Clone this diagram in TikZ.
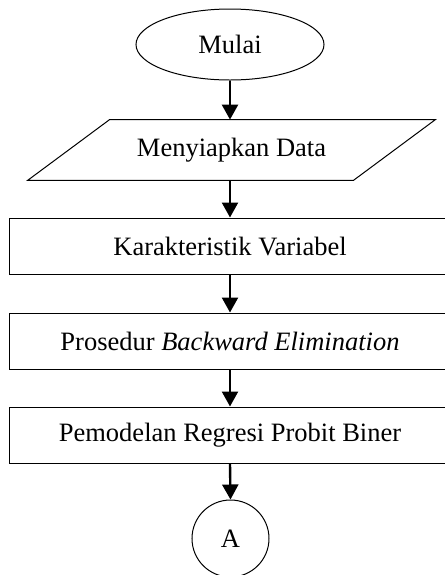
\documentclass[tikz,border=0pt]{standalone}
\usepackage{fontspec}
\setmainfont{Liberation Serif}
\usetikzlibrary{shapes.geometric,arrows.meta}
\begin{document}
\begin{tikzpicture}[x=0.5pt,y=-0.5pt,
  every node/.style={font=\fontsize{13.25}{16}\selectfont, inner sep=0pt},
  outline/.style={draw, line width=0.5pt},
  terminal/.style={outline, ellipse, minimum width=94pt, minimum height=35.5pt},
  procbox/.style={outline, rectangle, minimum width=220pt, minimum height=28pt},
  iobox/.style={rectangle, minimum width=121.5pt, minimum height=30pt},
  connector/.style={outline, circle, minimum size=38.5pt},
  flow/.style={-{Triangle[length=7.5pt,width=8pt]}, line width=1.2pt}]
  \useasboundingbox (0,0) rectangle (445,575);
  \clip (0,0) rectangle (445,575);

  % flowchart nodes
  \node[terminal] (mulai) at (230,44.5) {Mulai};
  \node[iobox] (data) at (231.5,150) {Menyiapkan Data};
  \draw[line width=0.5pt] ([xshift=0pt]data.north west) -- ([xshift=41pt]data.north east)
     -- (data.south east) -- ([xshift=-41pt]data.south west) -- cycle;
  \node[procbox] (kar) at (230,246) {Karakteristik Variabel};
  \node[procbox] (bwd) at (230,341) {Prosedur \textit{Backward Elimination}};
  \node[procbox] (probit) at (230,435) {Pemodelan Regresi Probit Biner};
  \node[connector] (a) at (230.5,538.5) {A};

  % flow arrows
  \draw[flow] (mulai.south) -- (mulai.south |- data.north);
  \draw[flow] (mulai.south |- data.south) -- (kar.north);
  \draw[flow] (kar.south) -- (bwd.north);
  \draw[flow] (bwd.south) -- (probit.north);
  \draw[flow] (probit.south) -- (a.north);
\end{tikzpicture}
\end{document}
